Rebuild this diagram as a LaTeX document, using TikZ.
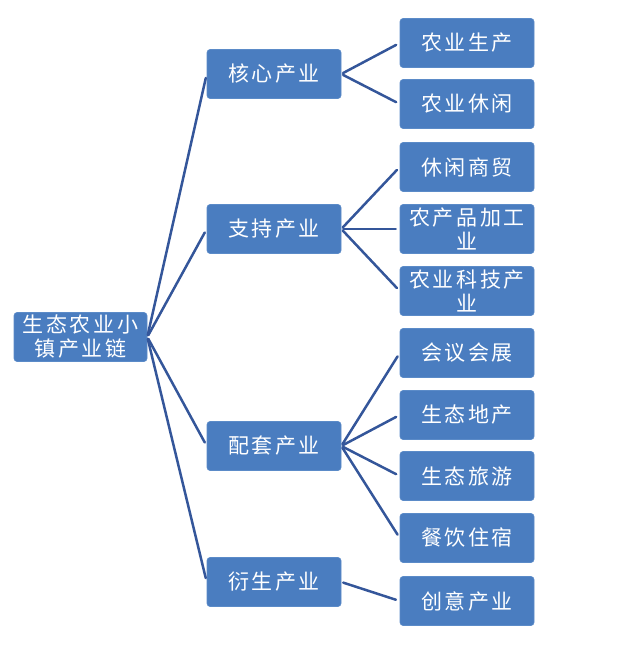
\documentclass[tikz,border=0pt]{standalone}
\usepackage{fontspec}
\newfontfamily\cjk[LetterSpace=12]{Noto Sans CJK SC}
\definecolor{boxblue}{HTML}{4A7DC0}
\definecolor{boxedge}{HTML}{5B8BC8}
\definecolor{linkblue}{HTML}{34569A}
\tikzset{
  box/.style={rectangle, rounded corners=3pt, fill=boxblue, draw=boxedge, line width=0.6pt, minimum width=134pt, minimum height=49pt, inner sep=1pt, text=white, align=center, font=\cjk\fontsize{21}{24}\selectfont},
  link/.style={draw=linkblue, line width=2.5pt, shorten <=2pt, shorten >=4pt}
}
\begin{document}
\begin{tikzpicture}[x=1pt, y=-1pt, line join=round, line cap=round]
  \useasboundingbox (0,0) rectangle (632,650);
  \def\xa{80.5}\def\xb{274}\def\xc{467}
  % chain and its four parts
  \node[box, minimum width=133pt] (root) at (\xa,337) {生态农业小\\镇产业链};
  \node[box] (hx) at (\xb,74) {核心产业};
  \node[box] (zc) at (\xb,229) {支持产业};
  \node[box] (pt) at (\xb,446) {配套产业};
  \node[box] (ys) at (\xb,582) {衍生产业};
  % single industries
  \node[box] (nysc) at (\xc,43) {农业生产};
  \node[box] (nyxx) at (\xc,104) {农业休闲};
  \node[box] (xxsm) at (\xc,167) {休闲商贸};
  \node[box] (ncp) at (\xc,229) {农产品加工\\业};
  \node[box] (nykj) at (\xc,291) {农业科技产\\业};
  \node[box] (hyhz) at (\xc,353) {会议会展};
  \node[box] (stdc) at (\xc,415) {生态地产};
  \node[box] (stly) at (\xc,476) {生态旅游};
  \node[box] (cyzs) at (\xc,538) {餐饮住宿};
  \node[box] (cycy) at (\xc,601) {创意产业};
  % links
  \foreach \m in {hx,zc,pt,ys} \draw[link] (root.east)--(\m.west);
  \foreach \r in {nysc,nyxx} \draw[link] (hx.east)--(\r.west);
  \foreach \r in {xxsm,ncp,nykj} \draw[link] (zc.east)--(\r.west);
  \foreach \r in {hyhz,stdc,stly,cyzs} \draw[link] (pt.east)--(\r.west);
  \draw[link] (ys.east)--(cycy.west);
\end{tikzpicture}
\end{document}
